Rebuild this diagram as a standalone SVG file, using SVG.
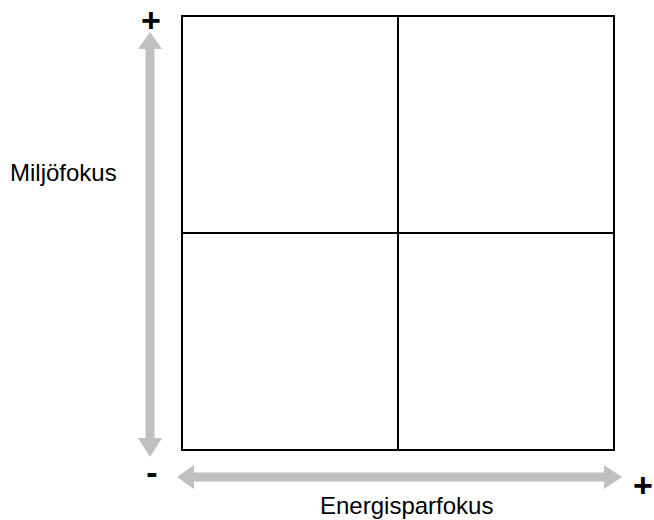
<svg xmlns="http://www.w3.org/2000/svg" width="654" height="520" viewBox="0 0 654 520">
<style>
.grid{fill:none;stroke:#000;stroke-width:2}
.axis{fill:#c0c0c0;stroke:none}
.lbl{font-family:"Liberation Sans",Arial,sans-serif;font-size:24px;fill:#000}
.sign{font-family:"Liberation Sans",Arial,sans-serif;font-weight:bold;font-size:34px;fill:#000;text-anchor:middle}
</style>
<rect width="654" height="520" fill="#fff"/>
<g id="matrix">
<rect class="grid" x="182" y="16" width="432" height="434"/>
<line class="grid" x1="398" y1="16" x2="398" y2="450"/>
<line class="grid" x1="182" y1="233" x2="614" y2="233"/>
</g>
<g id="connectors">
<polygon class="axis" points="150,32 162,49 154.5,49 154.5,438 162,438 150,457 138,438 145.5,438 145.5,49 138,49"/>
<polygon class="axis" points="177,477 194,465 194,472.5 604,472.5 604,465 622,477 604,489 604,481.5 194,481.5 194,489"/>
</g>
<g id="labels">
<text class="lbl" x="10" y="181">Miljöfokus</text>
<text class="lbl" x="320" y="514">Energisparfokus</text>
<text class="sign" x="151" y="32">+</text>
<text class="sign" x="152" y="484">-</text>
<text class="sign" x="643" y="497">+</text>
</g>
</svg>
